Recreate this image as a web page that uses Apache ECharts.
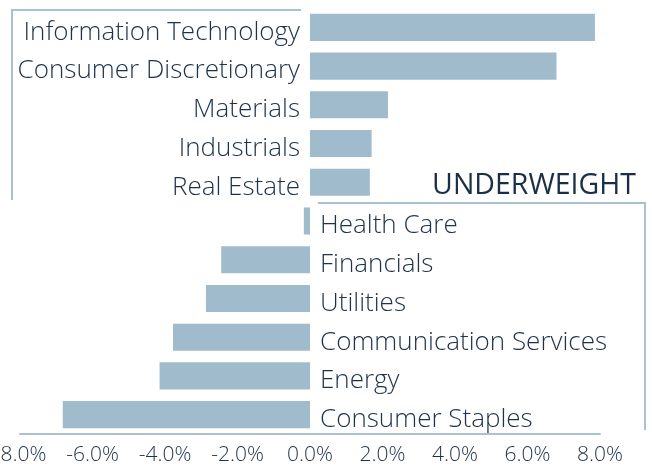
<!DOCTYPE html>
<html>
<head>
<meta charset="utf-8">
<script src="https://cdn.jsdelivr.net/npm/echarts@6/dist/echarts.min.js"></script>
<style>
  html, body { margin: 0; padding: 0; background: #fff; }
  #chart { width: 652px; height: 469px; }
</style>
</head>
<body>
<div id="chart"></div>
<script>
// sector weights relative to benchmark (%)
const sectors = [
  'Information Technology', 'Consumer Discretionary', 'Materials', 'Industrials', 'Real Estate',
  'Health Care', 'Financials', 'Utilities', 'Communication Services', 'Energy', 'Consumer Staples'
];
const weights = [7.86, 6.8, 2.15, 1.7, 1.65, -0.17, -2.45, -2.87, -3.78, -4.15, -6.82];
const xTicks = [-8, -6, -4, -2, 0, 2, 4, 6, 8];

const FONT = '"Open Sans", sans-serif';
const TEXT = '#1e324d';
const BAR = '#a0bbcc';
const RULE = '#a9c1d1';

const chart = echarts.init(document.getElementById('chart'));

const option = {
  animation: false,
  grid: { left: 20, right: 52, top: 8, bottom: 35, containLabel: false, outerBoundsMode: 'none' },
  title: {
    text: 'UNDERWEIGHT',
    right: 11,
    top: 166,
    textStyle: { color: '#1a2e48', fontFamily: FONT, fontSize: 28.5, fontWeight: 500 }
  },
  xAxis: {
    type: 'value',
    min: xTicks[0],
    max: xTicks[xTicks.length - 1],
    interval: 2,
    splitLine: { show: false },
    axisTick: { show: false },
    axisLine: { show: true, onZero: false, lineStyle: { color: RULE, width: 2 } },
    axisLabel: {
      color: TEXT,
      fontFamily: FONT,
      fontSize: 21,
      fontWeight: 300,
      margin: 11,
      formatter: (v) => v.toFixed(1) + '%'
    }
  },
  yAxis: {
    type: 'category',
    data: sectors,
    inverse: true,
    show: false
  },
  graphic: [
    { type: 'polyline', silent: true, shape: { points: [[301, 10], [12, 10], [12, 200]] },
      style: { stroke: RULE, lineWidth: 2, fill: null } },
    { type: 'polyline', silent: true, shape: { points: [[318, 203], [645, 203], [645, 430]] },
      style: { stroke: RULE, lineWidth: 2, fill: null } }
  ],
  series: [{
    type: 'bar',
    barCategoryGap: '30%',
    itemStyle: { color: BAR },
    data: weights.map((w) => ({
      value: w,
      label: {
        show: true,
        position: w >= 0 ? 'left' : 'right',
        distance: 10,
        offset: [0, 5],
        formatter: '{b}',
        color: TEXT,
        fontFamily: FONT,
        fontSize: 26,
        fontWeight: 300
      }
    }))
  }]
};

chart.setOption(option);
</script>
</body>
</html>
